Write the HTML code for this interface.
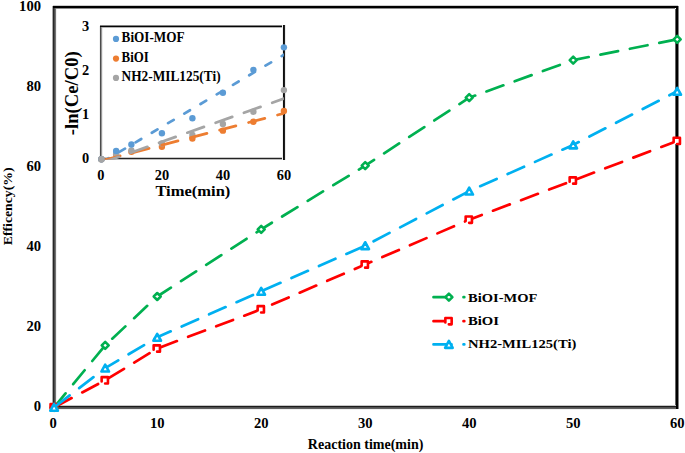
<!DOCTYPE html>
<html><head><meta charset="utf-8"><style>html,body{margin:0;padding:0;background:#fff;}svg{display:block;}</style></head>
<body><svg width="685" height="453" viewBox="0 0 685 453">
<rect width="685" height="453" fill="#fff"/>
<rect x="52" y="6" width="1" height="403" fill="#aaaaaa" shape-rendering="crispEdges"/>
<rect x="56" y="6" width="1" height="403" fill="#f0f0f0" shape-rendering="crispEdges"/>
<rect x="53" y="6" width="1" height="403" fill="#282828" shape-rendering="crispEdges"/>
<rect x="54" y="6" width="1" height="403" fill="#4b4b4b" shape-rendering="crispEdges"/>
<rect x="55" y="6" width="1" height="403" fill="#737373" shape-rendering="crispEdges"/>
<rect x="53" y="405" width="623" height="1" fill="#c8c8c8" shape-rendering="crispEdges"/>
<rect x="53" y="409" width="623" height="1" fill="#f0f0f0" shape-rendering="crispEdges"/>
<rect x="53" y="406" width="623" height="1" fill="#1c1c1c" shape-rendering="crispEdges"/>
<rect x="53" y="407" width="623" height="1" fill="#505050" shape-rendering="crispEdges"/>
<rect x="53" y="408" width="623" height="1" fill="#5f5f5f" shape-rendering="crispEdges"/>
<rect x="53" y="5" width="625" height="1" fill="#cdcdcd" shape-rendering="crispEdges"/>
<rect x="56" y="8" width="619" height="1" fill="#8c8c8c" shape-rendering="crispEdges"/>
<rect x="53" y="6" width="625" height="1" fill="#000000" shape-rendering="crispEdges"/>
<rect x="53" y="7" width="625" height="1" fill="#000000" shape-rendering="crispEdges"/>
<rect x="675" y="9" width="1" height="396" fill="#646464" shape-rendering="crispEdges"/>
<rect x="678" y="6" width="1" height="403" fill="#828282" shape-rendering="crispEdges"/>
<rect x="676" y="6" width="1" height="403" fill="#000000" shape-rendering="crispEdges"/>
<rect x="677" y="6" width="1" height="403" fill="#000000" shape-rendering="crispEdges"/>
<text x="41" y="411.30" font-family="Liberation Serif" font-weight="bold" font-size="14" text-anchor="end" textLength="7.3" lengthAdjust="spacingAndGlyphs">0</text>
<text x="41" y="331.30" font-family="Liberation Serif" font-weight="bold" font-size="14" text-anchor="end" textLength="14.6" lengthAdjust="spacingAndGlyphs">20</text>
<text x="41" y="251.30" font-family="Liberation Serif" font-weight="bold" font-size="14" text-anchor="end" textLength="14.6" lengthAdjust="spacingAndGlyphs">40</text>
<text x="41" y="171.30" font-family="Liberation Serif" font-weight="bold" font-size="14" text-anchor="end" textLength="14.6" lengthAdjust="spacingAndGlyphs">60</text>
<text x="41" y="91.30" font-family="Liberation Serif" font-weight="bold" font-size="14" text-anchor="end" textLength="14.6" lengthAdjust="spacingAndGlyphs">80</text>
<text x="41" y="11.30" font-family="Liberation Serif" font-weight="bold" font-size="14" text-anchor="end" textLength="21.9" lengthAdjust="spacingAndGlyphs">100</text>
<text x="53.20" y="428" font-family="Liberation Serif" font-weight="bold" font-size="14" text-anchor="middle" textLength="7.3" lengthAdjust="spacingAndGlyphs">0</text>
<text x="157.20" y="428" font-family="Liberation Serif" font-weight="bold" font-size="14" text-anchor="middle" textLength="14.6" lengthAdjust="spacingAndGlyphs">10</text>
<text x="261.20" y="428" font-family="Liberation Serif" font-weight="bold" font-size="14" text-anchor="middle" textLength="14.6" lengthAdjust="spacingAndGlyphs">20</text>
<text x="365.20" y="428" font-family="Liberation Serif" font-weight="bold" font-size="14" text-anchor="middle" textLength="14.6" lengthAdjust="spacingAndGlyphs">30</text>
<text x="469.20" y="428" font-family="Liberation Serif" font-weight="bold" font-size="14" text-anchor="middle" textLength="14.6" lengthAdjust="spacingAndGlyphs">40</text>
<text x="573.20" y="428" font-family="Liberation Serif" font-weight="bold" font-size="14" text-anchor="middle" textLength="14.6" lengthAdjust="spacingAndGlyphs">50</text>
<text x="677.20" y="428" font-family="Liberation Serif" font-weight="bold" font-size="14" text-anchor="middle" textLength="14.6" lengthAdjust="spacingAndGlyphs">60</text>
<text x="365.6" y="448.6" font-family="Liberation Serif" font-weight="bold" font-size="14" text-anchor="middle" textLength="115.5" lengthAdjust="spacingAndGlyphs">Reaction time(min)</text>
<text transform="translate(12.3,206.3) rotate(-90)" font-family="Liberation Serif" font-weight="bold" font-size="13.5" text-anchor="middle" textLength="78" lengthAdjust="spacingAndGlyphs">Efficency(%)</text>
<polyline points="54.10,407.30 105.20,345.30 157.20,296.50 261.20,229.30 365.20,165.70 469.20,97.70 573.20,60.10 677.20,39.30" fill="none" stroke="#00b050" stroke-width="2.7" stroke-dasharray="18 12" stroke-dashoffset="0" stroke-linecap="round" stroke-linejoin="round"/>
<path d="M54.10,403.80 L57.60,407.30 L54.10,410.80 L50.60,407.30 Z" fill="#fff" stroke="#00b050" stroke-width="2.55" stroke-linejoin="round"/>
<path d="M105.20,341.80 L108.70,345.30 L105.20,348.80 L101.70,345.30 Z" fill="#fff" stroke="#00b050" stroke-width="2.55" stroke-linejoin="round"/>
<path d="M157.20,293.00 L160.70,296.50 L157.20,300.00 L153.70,296.50 Z" fill="#fff" stroke="#00b050" stroke-width="2.55" stroke-linejoin="round"/>
<path d="M261.20,225.80 L264.70,229.30 L261.20,232.80 L257.70,229.30 Z" fill="#fff" stroke="#00b050" stroke-width="2.55" stroke-linejoin="round"/>
<path d="M365.20,162.20 L368.70,165.70 L365.20,169.20 L361.70,165.70 Z" fill="#fff" stroke="#00b050" stroke-width="2.55" stroke-linejoin="round"/>
<path d="M469.20,94.20 L472.70,97.70 L469.20,101.20 L465.70,97.70 Z" fill="#fff" stroke="#00b050" stroke-width="2.55" stroke-linejoin="round"/>
<path d="M573.20,56.60 L576.70,60.10 L573.20,63.60 L569.70,60.10 Z" fill="#fff" stroke="#00b050" stroke-width="2.55" stroke-linejoin="round"/>
<path d="M677.20,35.80 L680.70,39.30 L677.20,42.80 L673.70,39.30 Z" fill="#fff" stroke="#00b050" stroke-width="2.55" stroke-linejoin="round"/>
<polyline points="54.10,407.30 105.20,380.30 157.20,348.50 261.20,309.30 365.20,264.50 469.20,219.70 573.20,180.50 677.20,140.90" fill="none" stroke="#ff0000" stroke-width="2.7" stroke-dasharray="18 12" stroke-dashoffset="-1.8" stroke-linecap="round" stroke-linejoin="round"/>
<rect x="50.55" y="404.15" width="6.3" height="6.3" fill="#fff"/><path d="M50.55,408.56 L50.55,404.15 L56.85,404.15 L56.85,410.45 L54.02,410.45" fill="none" stroke="#ff0000" stroke-width="2.6" stroke-linejoin="round" stroke-linecap="round"/>
<rect x="101.65" y="377.15" width="6.3" height="6.3" fill="#fff"/><path d="M101.65,381.56 L101.65,377.15 L107.95,377.15 L107.95,383.45 L105.12,383.45" fill="none" stroke="#ff0000" stroke-width="2.6" stroke-linejoin="round" stroke-linecap="round"/>
<rect x="153.65" y="345.35" width="6.3" height="6.3" fill="#fff"/><path d="M153.65,349.76 L153.65,345.35 L159.95,345.35 L159.95,351.65 L157.11,351.65" fill="none" stroke="#ff0000" stroke-width="2.6" stroke-linejoin="round" stroke-linecap="round"/>
<rect x="257.65" y="306.15" width="6.3" height="6.3" fill="#fff"/><path d="M257.65,310.56 L257.65,306.15 L263.95,306.15 L263.95,312.45 L261.12,312.45" fill="none" stroke="#ff0000" stroke-width="2.6" stroke-linejoin="round" stroke-linecap="round"/>
<rect x="361.65" y="261.35" width="6.3" height="6.3" fill="#fff"/><path d="M361.65,265.76 L361.65,261.35 L367.95,261.35 L367.95,267.65 L365.12,267.65" fill="none" stroke="#ff0000" stroke-width="2.6" stroke-linejoin="round" stroke-linecap="round"/>
<rect x="465.65" y="216.55" width="6.3" height="6.3" fill="#fff"/><path d="M465.65,220.96 L465.65,216.55 L471.95,216.55 L471.95,222.85 L469.12,222.85" fill="none" stroke="#ff0000" stroke-width="2.6" stroke-linejoin="round" stroke-linecap="round"/>
<rect x="569.65" y="177.35" width="6.3" height="6.3" fill="#fff"/><path d="M569.65,181.76 L569.65,177.35 L575.95,177.35 L575.95,183.65 L573.12,183.65" fill="none" stroke="#ff0000" stroke-width="2.6" stroke-linejoin="round" stroke-linecap="round"/>
<rect x="673.65" y="137.75" width="6.3" height="6.3" fill="#fff"/><path d="M673.65,142.16 L673.65,137.75 L679.95,137.75 L679.95,144.05 L677.12,144.05" fill="none" stroke="#ff0000" stroke-width="2.6" stroke-linejoin="round" stroke-linecap="round"/>
<polyline points="54.10,407.30 105.20,368.10 157.20,337.30 261.20,291.30 365.20,245.70 469.20,191.10 573.20,144.90 677.20,91.30" fill="none" stroke="#00b0f0" stroke-width="2.7" stroke-dasharray="18 12" stroke-dashoffset="-1.6" stroke-linecap="round" stroke-linejoin="round"/>
<path d="M54.10,403.85 L57.90,410.75 L50.30,410.75 Z" fill="#fff" stroke="#00b0f0" stroke-width="2.6" stroke-linejoin="round"/>
<path d="M105.20,364.65 L109.00,371.55 L101.40,371.55 Z" fill="#fff" stroke="#00b0f0" stroke-width="2.6" stroke-linejoin="round"/>
<path d="M157.20,333.85 L161.00,340.75 L153.40,340.75 Z" fill="#fff" stroke="#00b0f0" stroke-width="2.6" stroke-linejoin="round"/>
<path d="M261.20,287.85 L265.00,294.75 L257.40,294.75 Z" fill="#fff" stroke="#00b0f0" stroke-width="2.6" stroke-linejoin="round"/>
<path d="M365.20,242.25 L369.00,249.15 L361.40,249.15 Z" fill="#fff" stroke="#00b0f0" stroke-width="2.6" stroke-linejoin="round"/>
<path d="M469.20,187.65 L473.00,194.55 L465.40,194.55 Z" fill="#fff" stroke="#00b0f0" stroke-width="2.6" stroke-linejoin="round"/>
<path d="M573.20,141.45 L577.00,148.35 L569.40,148.35 Z" fill="#fff" stroke="#00b0f0" stroke-width="2.6" stroke-linejoin="round"/>
<path d="M677.20,87.85 L681.00,94.75 L673.40,94.75 Z" fill="#fff" stroke="#00b0f0" stroke-width="2.6" stroke-linejoin="round"/>
<polyline points="433.50,297.20 464.30,297.20" fill="none" stroke="#00b050" stroke-width="2.7" stroke-dasharray="18 12" stroke-dashoffset="0" stroke-linecap="round" stroke-linejoin="round"/>
<path d="M448.90,293.70 L452.40,297.20 L448.90,300.70 L445.40,297.20 Z" fill="#fff" stroke="#00b050" stroke-width="2.55" stroke-linejoin="round"/>
<polyline points="433.50,321.20 464.30,321.20" fill="none" stroke="#ff0000" stroke-width="2.7" stroke-dasharray="18 12" stroke-dashoffset="0" stroke-linecap="round" stroke-linejoin="round"/>
<rect x="445.35" y="318.05" width="6.3" height="6.3" fill="#fff"/><path d="M445.35,322.46 L445.35,318.05 L451.65,318.05 L451.65,324.35 L448.81,324.35" fill="none" stroke="#ff0000" stroke-width="2.6" stroke-linejoin="round" stroke-linecap="round"/>
<polyline points="433.50,344.40 464.30,344.40" fill="none" stroke="#00b0f0" stroke-width="2.7" stroke-dasharray="18 12" stroke-dashoffset="0" stroke-linecap="round" stroke-linejoin="round"/>
<path d="M448.90,340.95 L452.70,347.85 L445.10,347.85 Z" fill="#fff" stroke="#00b0f0" stroke-width="2.6" stroke-linejoin="round"/>
<text x="468" y="301.8" font-family="Liberation Serif" font-weight="bold" font-size="13.5" textLength="69.3" lengthAdjust="spacingAndGlyphs">BiOI-MOF</text>
<text x="468" y="325.3" font-family="Liberation Serif" font-weight="bold" font-size="13.5" textLength="31" lengthAdjust="spacingAndGlyphs">BiOI</text>
<text x="468" y="347.8" font-family="Liberation Serif" font-weight="bold" font-size="13.5" textLength="108.3" lengthAdjust="spacingAndGlyphs">NH2-MIL125(Ti)</text>
<rect x="100.9" y="26.2" width="182.99999999999997" height="132.20000000000002" fill="#fff"/>
<rect x="99" y="26" width="1" height="133" fill="#f0f0f0" shape-rendering="crispEdges"/>
<rect x="102" y="26" width="1" height="133" fill="#ebebeb" shape-rendering="crispEdges"/>
<rect x="101" y="26" width="1" height="133" fill="#969696" shape-rendering="crispEdges"/>
<rect x="100" y="26" width="1" height="133" fill="#4b4b4b" shape-rendering="crispEdges"/>
<rect x="100" y="157" width="184" height="1" fill="#c8c8c8" shape-rendering="crispEdges"/>
<rect x="100" y="159" width="184" height="1" fill="#bebebe" shape-rendering="crispEdges"/>
<rect x="100" y="158" width="184" height="1" fill="#232323" shape-rendering="crispEdges"/>
<rect x="100" y="25" width="185" height="1" fill="#828282" shape-rendering="crispEdges"/>
<rect x="102" y="27" width="181" height="1" fill="#b4b4b4" shape-rendering="crispEdges"/>
<rect x="100" y="26" width="185" height="1" fill="#050505" shape-rendering="crispEdges"/>
<rect x="282" y="25" width="1" height="135" fill="#f0f0f0" shape-rendering="crispEdges"/>
<rect x="285" y="25" width="1" height="135" fill="#ebebeb" shape-rendering="crispEdges"/>
<rect x="283" y="25" width="1" height="135" fill="#0f0f0f" shape-rendering="crispEdges"/>
<rect x="284" y="25" width="1" height="135" fill="#1e1e1e" shape-rendering="crispEdges"/>
<text x="89.2" y="163.00" font-family="Liberation Serif" font-weight="bold" font-size="14" text-anchor="end" textLength="7.2" lengthAdjust="spacingAndGlyphs">0</text>
<text x="89.2" y="118.93" font-family="Liberation Serif" font-weight="bold" font-size="14" text-anchor="end" textLength="7.2" lengthAdjust="spacingAndGlyphs">1</text>
<text x="89.2" y="74.87" font-family="Liberation Serif" font-weight="bold" font-size="14" text-anchor="end" textLength="7.2" lengthAdjust="spacingAndGlyphs">2</text>
<text x="89.2" y="30.80" font-family="Liberation Serif" font-weight="bold" font-size="14" text-anchor="end" textLength="7.2" lengthAdjust="spacingAndGlyphs">3</text>
<text x="100.90" y="180.2" font-family="Liberation Serif" font-weight="bold" font-size="14" text-anchor="middle" textLength="7.2" lengthAdjust="spacingAndGlyphs">0</text>
<text x="161.90" y="180.2" font-family="Liberation Serif" font-weight="bold" font-size="14" text-anchor="middle" textLength="14.4" lengthAdjust="spacingAndGlyphs">20</text>
<text x="222.90" y="180.2" font-family="Liberation Serif" font-weight="bold" font-size="14" text-anchor="middle" textLength="14.4" lengthAdjust="spacingAndGlyphs">40</text>
<text x="283.90" y="180.2" font-family="Liberation Serif" font-weight="bold" font-size="14" text-anchor="middle" textLength="14.4" lengthAdjust="spacingAndGlyphs">60</text>
<text x="192.9" y="196.2" font-family="Liberation Serif" font-weight="bold" font-size="15.3" text-anchor="middle" textLength="75" lengthAdjust="spacingAndGlyphs">Time(min)</text>
<text transform="translate(78.3,93.2) rotate(-90)" font-family="Liberation Serif" font-weight="bold" font-size="18" text-anchor="middle" textLength="84" lengthAdjust="spacingAndGlyphs">-ln(Ce/C0)</text>
<circle cx="116" cy="38.9" r="3.1" fill="#5b9bd5"/>
<circle cx="116" cy="58.6" r="3.1" fill="#ed7d31"/>
<circle cx="116" cy="77.9" r="3.1" fill="#a5a5a5"/>
<text x="121.6" y="42.3" font-family="Liberation Serif" font-weight="bold" font-size="13.6" textLength="63" lengthAdjust="spacingAndGlyphs">BiOI-MOF</text>
<text x="121.6" y="61.8" font-family="Liberation Serif" font-weight="bold" font-size="13.6" textLength="27.3" lengthAdjust="spacingAndGlyphs">BiOI</text>
<text x="121.6" y="81.1" font-family="Liberation Serif" font-weight="bold" font-size="13.6" textLength="99" lengthAdjust="spacingAndGlyphs">NH2-MIL125(Ti)</text>
<clipPath id="ic"><rect x="101.10000000000001" y="26.2" width="182.79999999999998" height="133.60000000000002"/></clipPath>
<circle cx="101.40" cy="159.20" r="3.2" fill="#ed7d31"/>
<circle cx="116.15" cy="154.87" r="3.2" fill="#ed7d31"/>
<circle cx="131.40" cy="151.79" r="3.2" fill="#ed7d31"/>
<circle cx="161.90" cy="146.72" r="3.2" fill="#ed7d31"/>
<circle cx="192.40" cy="138.57" r="3.2" fill="#ed7d31"/>
<circle cx="222.90" cy="130.64" r="3.2" fill="#ed7d31"/>
<circle cx="253.40" cy="121.82" r="3.2" fill="#ed7d31"/>
<circle cx="283.90" cy="111.03" r="3.2" fill="#ed7d31"/>
<circle cx="101.40" cy="159.20" r="3.2" fill="#a5a5a5"/>
<circle cx="116.15" cy="153.99" r="3.2" fill="#a5a5a5"/>
<circle cx="131.40" cy="150.47" r="3.2" fill="#a5a5a5"/>
<circle cx="161.90" cy="143.42" r="3.2" fill="#a5a5a5"/>
<circle cx="192.40" cy="135.04" r="3.2" fill="#a5a5a5"/>
<circle cx="222.90" cy="124.03" r="3.2" fill="#a5a5a5"/>
<circle cx="253.40" cy="111.69" r="3.2" fill="#a5a5a5"/>
<circle cx="283.90" cy="90.10" r="3.2" fill="#a5a5a5"/>
<circle cx="101.40" cy="159.20" r="3.2" fill="#5b9bd5"/>
<circle cx="116.15" cy="150.91" r="3.2" fill="#5b9bd5"/>
<circle cx="131.40" cy="144.52" r="3.2" fill="#5b9bd5"/>
<circle cx="161.90" cy="133.28" r="3.2" fill="#5b9bd5"/>
<circle cx="192.40" cy="118.30" r="3.2" fill="#5b9bd5"/>
<circle cx="222.90" cy="92.74" r="3.2" fill="#5b9bd5"/>
<circle cx="253.40" cy="69.83" r="3.2" fill="#5b9bd5"/>
<circle cx="283.90" cy="47.35" r="3.2" fill="#5b9bd5"/>
<g clip-path="url(#ic)"><polyline points="100.90,162.81 283.90,54.80" fill="none" stroke="#5b9bd5" stroke-width="2.75" stroke-dasharray="6.55 12.3" stroke-dashoffset="-2.6" stroke-linecap="round" stroke-linejoin="round"/></g>
<g clip-path="url(#ic)"><polyline points="100.90,160.96 283.90,113.32" fill="none" stroke="#ed7d31" stroke-width="2.75" stroke-dasharray="16.75 13.15" stroke-dashoffset="-3.1" stroke-linecap="round" stroke-linejoin="round"/></g>
<g clip-path="url(#ic)"><polyline points="100.90,163.25 283.90,98.60" fill="none" stroke="#a5a5a5" stroke-width="2.75" stroke-dasharray="17.6 12.4" stroke-dashoffset="-1.7" stroke-linecap="round" stroke-linejoin="round"/></g>
<circle cx="101.40" cy="159.20" r="3.2" fill="#a5a5a5"/>
</svg></body></html>
